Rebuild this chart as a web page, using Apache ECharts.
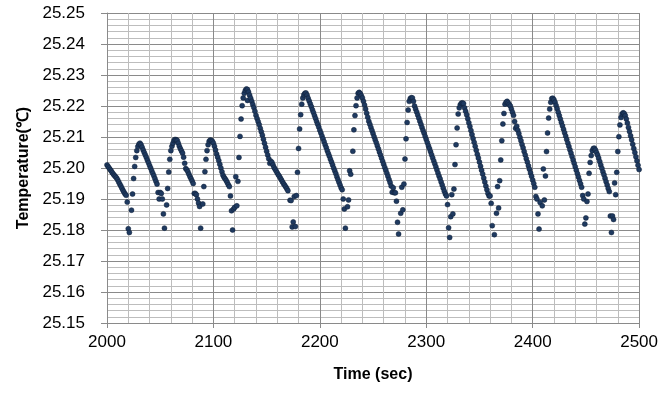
<!DOCTYPE html>
<html>
<head>
<meta charset="utf-8">
<script src="https://cdn.jsdelivr.net/npm/echarts@6/dist/echarts.min.js"></script>
<style>
html,body{margin:0;padding:0;background:#fff;}
#chart{width:661px;height:396px;}
</style>
</head>
<body>
<div id="chart"></div>
<script>
// Axis settings
var xTicks = [2000, 2100, 2200, 2300, 2400, 2500];
var yTicks = [25.15, 25.16, 25.17, 25.18, 25.19, 25.20, 25.21, 25.22, 25.23, 25.24, 25.25];
var xTitle = 'Time (sec)';
var yTitle = 'Temperature(℃)';

// Measured points [time (s), temperature (°C)], grouped by cycle
var cycle1 = [[2000,25.2010],[2001,25.2005],[2002,25.2000],[2003,25.1995],[2004,25.1990],[2005,25.1985],[2006,25.1980],[2007,25.1976],[2008,25.1972],[2009,25.1968],[2010,25.1962],[2011,25.1955],[2012,25.1948],[2013,25.1942],[2014,25.1935],[2015,25.1928],[2016,25.1922],[2017,25.1916],[2018,25.1912],[2019,25.1890],[2020,25.1804],[2021,25.1792],[2023,25.1864]];
var cycle2 = [[2024,25.1916],[2025,25.1966],[2026,25.2005],[2027,25.2034],[2028,25.2056],[2029,25.2069],[2030,25.2077],[2031,25.2080],[2032,25.2075],[2033,25.2067],[2034,25.2058],[2035,25.2050],[2036,25.2042],[2037,25.2034],[2038,25.2025],[2039,25.2017],[2040,25.2008],[2041,25.2000],[2042,25.1991],[2043,25.1983],[2044,25.1975],[2045,25.1966],[2046,25.1957],[2047,25.1948],[2048,25.1921],[2049,25.1900],[2050,25.1921],[2051,25.1918],[2052,25.1900],[2053,25.1852],[2054,25.1806],[2056,25.1881]];
var cycle3 = [[2057,25.1934],[2058,25.1987],[2059,25.2028],[2060,25.2056],[2061,25.2070],[2062,25.2080],[2063,25.2089],[2064,25.2092],[2065,25.2091],[2066,25.2089],[2067,25.2080],[2068,25.2070],[2069,25.2062],[2070,25.2055],[2071,25.2048],[2072,25.2035],[2073,25.2015],[2074,25.1998],[2075,25.1994],[2076,25.1988],[2077,25.1980],[2078,25.1972],[2079,25.1965],[2080,25.1958],[2081,25.1950],[2082,25.1918],[2083,25.1918],[2084,25.1914],[2085,25.1900],[2086,25.1887],[2087,25.1876],[2088,25.1806],[2090,25.1884]];
var cycle4 = [[2091,25.1940],[2092,25.1988],[2093,25.2028],[2094,25.2056],[2095,25.2075],[2096,25.2086],[2097,25.2090],[2098,25.2089],[2099,25.2086],[2100,25.2080],[2101,25.2070],[2102,25.2058],[2103,25.2045],[2104,25.2035],[2105,25.2024],[2106,25.2012],[2107,25.2000],[2108,25.1988],[2109,25.1977],[2110,25.1970],[2111,25.1965],[2112,25.1960],[2113,25.1953],[2114,25.1946],[2115,25.1940],[2116,25.1910],[2117,25.1862],[2118,25.1800],[2119,25.1868],[2120,25.1873],[2122,25.1878]];
var cycle5 = [[2121,25.1972],[2123,25.1957],[2124,25.2034],[2125,25.2102],[2126,25.2158],[2127,25.2201],[2128,25.2226],[2129,25.2241],[2130,25.2250],[2131,25.2255],[2132,25.2253],[2132,25.2218],[2133,25.2245],[2134,25.2235],[2135,25.2225],[2136,25.2215],[2137,25.2205],[2138,25.2195],[2139,25.2183],[2140,25.2170],[2141,25.2160],[2142,25.2150],[2143,25.2140],[2144,25.2128],[2145,25.2117],[2146,25.2106],[2147,25.2093],[2148,25.2080],[2149,25.2067],[2150,25.2054],[2151,25.2042],[2152,25.2030],[2153,25.2015],[2154,25.2022],[2155,25.2018],[2156,25.2010],[2157,25.2002],[2158,25.1996],[2159,25.1990],[2160,25.1984],[2161,25.1978],[2162,25.1973],[2163,25.1967],[2164,25.1961],[2165,25.1955],[2166,25.1949],[2167,25.1944],[2168,25.1939],[2169,25.1933],[2170,25.1927],[2172,25.1896],[2173,25.1895],[2174,25.1810],[2175,25.1826],[2176,25.1908],[2177,25.1811],[2178,25.1911]];
var cycle6 = [[2179,25.1986],[2180,25.2063],[2181,25.2126],[2182,25.2172],[2183,25.2206],[2184,25.2226],[2185,25.2236],[2186,25.2241],[2187,25.2242],[2188,25.2235],[2189,25.2225],[2190,25.2216],[2191,25.2207],[2192,25.2198],[2193,25.2188],[2194,25.2179],[2195,25.2169],[2196,25.2160],[2197,25.2150],[2198,25.2141],[2199,25.2132],[2200,25.2122],[2201,25.2113],[2202,25.2103],[2203,25.2094],[2204,25.2085],[2205,25.2075],[2206,25.2066],[2207,25.2056],[2208,25.2047],[2209,25.2038],[2210,25.2028],[2211,25.2019],[2212,25.2010],[2213,25.2000],[2214,25.1991],[2215,25.1982],[2216,25.1972],[2217,25.1963],[2218,25.1954],[2219,25.1945],[2220,25.1936],[2221,25.1930],[2222,25.1900],[2223,25.1868],[2224,25.1806],[2226,25.1875],[2227,25.1897]];
var cycle7 = [[2228,25.1991],[2229,25.1980],[2231,25.2054],[2232,25.2123],[2233,25.2169],[2234,25.2201],[2235,25.2226],[2236,25.2241],[2237,25.2244],[2238,25.2240],[2239,25.2233],[2240,25.2226],[2241,25.2215],[2242,25.2203],[2243,25.2190],[2244,25.2177],[2245,25.2164],[2246,25.2151],[2247,25.2141],[2248,25.2131],[2249,25.2121],[2250,25.2111],[2251,25.2101],[2252,25.2091],[2253,25.2082],[2254,25.2072],[2255,25.2062],[2256,25.2052],[2257,25.2042],[2258,25.2032],[2259,25.2022],[2260,25.2012],[2261,25.2002],[2262,25.1993],[2263,25.1983],[2264,25.1973],[2265,25.1963],[2266,25.1953],[2267,25.1942],[2268,25.1922],[2269,25.1936],[2270,25.1920],[2271,25.1920],[2272,25.1893],[2273,25.1825],[2274,25.1787],[2276,25.1854],[2278,25.1865]];
var cycle8 = [[2277,25.1938],[2279,25.1948],[2280,25.2029],[2281,25.2094],[2282,25.2147],[2283,25.2187],[2284,25.2215],[2285,25.2224],[2286,25.2227],[2287,25.2226],[2288,25.2215],[2289,25.2200],[2290,25.2190],[2291,25.2181],[2292,25.2171],[2293,25.2161],[2294,25.2151],[2295,25.2141],[2296,25.2131],[2297,25.2121],[2298,25.2112],[2299,25.2102],[2300,25.2092],[2301,25.2082],[2302,25.2072],[2303,25.2063],[2304,25.2053],[2305,25.2043],[2306,25.2033],[2307,25.2023],[2308,25.2014],[2309,25.2004],[2310,25.1994],[2311,25.1984],[2312,25.1974],[2313,25.1965],[2314,25.1955],[2315,25.1945],[2316,25.1935],[2317,25.1925],[2318,25.1916],[2319,25.1910],[2320,25.1882],[2321,25.1807],[2322,25.1776],[2323,25.1843],[2325,25.1852]];
var cycle9 = [[2324,25.1914],[2326,25.1932],[2327,25.2011],[2328,25.2075],[2329,25.2129],[2330,25.2174],[2331,25.2194],[2332,25.2204],[2333,25.2209],[2334,25.2210],[2335,25.2208],[2336,25.2194],[2337,25.2183],[2338,25.2172],[2339,25.2159],[2340,25.2146],[2341,25.2134],[2342,25.2121],[2343,25.2108],[2344,25.2095],[2345,25.2083],[2346,25.2070],[2347,25.2057],[2348,25.2044],[2349,25.2032],[2350,25.2019],[2351,25.2006],[2352,25.1993],[2353,25.1981],[2354,25.1968],[2355,25.1955],[2356,25.1942],[2357,25.1930],[2358,25.1918],[2359,25.1910],[2360,25.1910],[2361,25.1886],[2362,25.1814],[2364,25.1785],[2366,25.1854],[2368,25.1871]];
var cycle10 = [[2367,25.1940],[2369,25.1959],[2370,25.2026],[2371,25.2088],[2372,25.2142],[2373,25.2176],[2374,25.2206],[2375,25.2212],[2376,25.2215],[2377,25.2210],[2378,25.2205],[2379,25.2200],[2380,25.2190],[2381,25.2180],[2382,25.2170],[2383,25.2150],[2384,25.2128],[2385,25.2135],[2386,25.2122],[2387,25.2111],[2388,25.2099],[2389,25.2088],[2390,25.2076],[2391,25.2065],[2392,25.2053],[2393,25.2042],[2394,25.2030],[2395,25.2019],[2396,25.2007],[2397,25.1996],[2398,25.1984],[2399,25.1973],[2400,25.1961],[2401,25.1950],[2402,25.1938],[2403,25.1908],[2404,25.1900],[2405,25.1852],[2406,25.1803],[2407,25.1889],[2409,25.1878],[2411,25.1897]];
var cycle11 = [[2410,25.1997],[2412,25.1974],[2413,25.2053],[2414,25.2113],[2415,25.2161],[2416,25.2190],[2417,25.2212],[2418,25.2224],[2419,25.2225],[2420,25.2220],[2421,25.2212],[2422,25.2202],[2423,25.2191],[2424,25.2180],[2425,25.2169],[2426,25.2158],[2427,25.2147],[2428,25.2136],[2429,25.2125],[2430,25.2114],[2431,25.2103],[2432,25.2092],[2433,25.2081],[2434,25.2070],[2435,25.2059],[2436,25.2048],[2437,25.2037],[2438,25.2026],[2439,25.2015],[2440,25.2004],[2441,25.1993],[2442,25.1982],[2443,25.1971],[2444,25.1960],[2445,25.1949],[2446,25.1938],[2447,25.1911],[2448,25.1900],[2449,25.1819],[2450,25.1839],[2451,25.1892]];
var cycle12 = [[2452,25.1916],[2453,25.1983],[2454,25.2018],[2455,25.2040],[2456,25.2056],[2457,25.2063],[2458,25.2064],[2459,25.2058],[2460,25.2050],[2461,25.2042],[2462,25.2032],[2463,25.2021],[2464,25.2010],[2465,25.1999],[2466,25.1988],[2467,25.1978],[2468,25.1967],[2469,25.1956],[2470,25.1945],[2471,25.1934],[2472,25.1924],[2473,25.1845],[2474,25.1792],[2475,25.1845],[2476,25.1834],[2478,25.1914]];
var cycle13 = [[2477,25.1952],[2479,25.1986],[2480,25.2053],[2481,25.2101],[2482,25.2139],[2483,25.2163],[2484,25.2174],[2485,25.2178],[2486,25.2176],[2487,25.2169],[2488,25.2158],[2489,25.2145],[2490,25.2131],[2491,25.2118],[2492,25.2104],[2493,25.2091],[2494,25.2077],[2495,25.2063],[2496,25.2050],[2497,25.2036],[2498,25.2023],[2499,25.2009],[2500,25.1995]];

var points = [].concat(cycle1, cycle2, cycle3, cycle4, cycle5, cycle6, cycle7, cycle8, cycle9, cycle10, cycle11, cycle12, cycle13);

var chart = echarts.init(document.getElementById('chart'), null, {renderer: 'canvas'});
var font = '"Liberation Sans", Arial, sans-serif';
var majorColor = '#8a8a8a';
var minorColor = '#bdbdbd';

chart.setOption({
  animation: false,
  backgroundColor: '#ffffff',
  grid: {left: 107, top: 13, right: 21, bottom: 73, containLabel: false},
  xAxis: {
    type: 'value',
    min: xTicks[0],
    max: xTicks[xTicks.length - 1],
    interval: xTicks[1] - xTicks[0],
    name: xTitle,
    nameLocation: 'middle',
    nameGap: 44,
    nameTextStyle: {fontFamily: font, fontSize: 16, fontWeight: 'bold', color: '#000'},
    axisLine: {show: true, lineStyle: {color: majorColor, width: 1}},
    axisTick: {show: true, inside: false, length: 5, lineStyle: {color: majorColor}},
    axisLabel: {fontFamily: font, fontSize: 17, color: '#000', margin: 11,
      formatter: function (v) { return String(v); }},
    splitLine: {show: true, lineStyle: {color: majorColor, width: 1}},
    minorTick: {show: false, splitNumber: 5},
    minorSplitLine: {show: true, lineStyle: {color: minorColor, width: 1}}
  },
  yAxis: {
    type: 'value',
    min: yTicks[0],
    max: yTicks[yTicks.length - 1],
    interval: 0.01,
    name: yTitle,
    nameLocation: 'middle',
    nameGap: 74,
    nameTextStyle: {fontFamily: font, fontSize: 16, fontWeight: 'bold', color: '#000'},
    axisLine: {show: true, lineStyle: {color: majorColor, width: 1}},
    axisTick: {show: true, inside: false, length: 6, lineStyle: {color: majorColor}},
    axisLabel: {fontFamily: font, fontSize: 17, color: '#000', margin: 22,
      formatter: function (v) { return v.toFixed(2); }},
    splitLine: {show: true, lineStyle: {color: majorColor, width: 1}},
    minorTick: {show: false, splitNumber: 5},
    minorSplitLine: {show: true, lineStyle: {color: minorColor, width: 1}}
  },
  series: [{
    type: 'scatter',
    data: points,
    symbol: 'circle',
    symbolSize: 5,
    itemStyle: {color: '#1f3a60', borderColor: '#0f1f36', borderWidth: 0.5, opacity: 1}
  }]
});
</script>
</body>
</html>
